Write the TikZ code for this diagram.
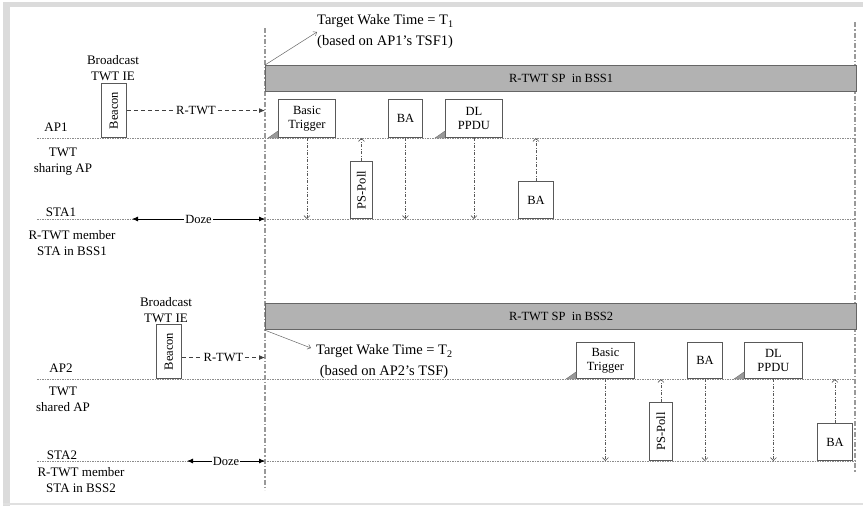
\documentclass[tikz,border=0pt]{standalone}
\usepackage{fontspec}
\setmainfont{Liberation Serif}
\usetikzlibrary{arrows.meta,calc}
\begin{document}
\begin{tikzpicture}[x=1pt,y=-1pt,
  lbl/.style={font=\fontsize{13}{16}\selectfont, inner sep=0pt, align=center},
  frm/.style={draw=black!65, fill=white, line width=0.9pt, inner sep=1pt, align=center, font=\fontsize{12.5}{14}\selectfont, anchor=south west},
  tline/.style={draw=black!45, line width=0.8pt, dash pattern=on 1.5pt off 1pt},
  vline/.style={draw=black!40, line width=1.2pt, dash pattern=on 5pt off 2pt on 1.5pt off 2pt},
  bar/.style={draw=black!60, fill=black!30, line width=1.2pt, anchor=north west, minimum width=591pt, minimum height=26pt, inner sep=0pt, font=\fontsize{12.5}{14}\selectfont},
  msg/.style={draw=black!65, line width=0.6pt, dash pattern=on 3pt off 1.5pt on 1pt off 1.5pt, -{Straight Barb[length=3pt,width=6pt]}},
  rtwt/.style={draw=black!75, line width=0.8pt, dash pattern=on 4pt off 3pt, -{Latex[length=6pt,width=5pt]}},
  doze/.style={draw=black, line width=0.8pt, {Latex[length=6pt,width=5pt]}-{Latex[length=6pt,width=5pt]}},
  twa/.style={draw=black!60, line width=0.5pt, -{Straight Barb[length=3pt,width=5pt]}},
  wedge/.style={fill=black!40, draw=black!55, line width=0.4pt},
  onl/.style={fill=white, inner sep=1pt, font=\fontsize{12.5}{14}\selectfont},
  twt/.style={anchor=west, align=left, inner sep=0pt, font=\fontsize{14.5}{21}\selectfont}
]
\useasboundingbox (0,0) rectangle (863,506);
% frame
\fill[black!14] (3,2) rectangle (863,7);
\fill[black!14] (3,2) rectangle (10,506);
\fill[black!12] (3,503) rectangle (863,505);

% coordinates of timelines
\coordinate (ap1) at (37,138);   \coordinate (ap1e) at (855,138);
\coordinate (sta1) at (37,219);  \coordinate (sta1e) at (855,219);
\coordinate (ap2) at (37,379);   \coordinate (ap2e) at (855,379);
\coordinate (sta2) at (37,461);  \coordinate (sta2e) at (855,461);
\coordinate (v1) at (265,28);    \coordinate (v1e) at (265,490);
\coordinate (v2) at (855,22);    \coordinate (v2e) at (855,472);

\draw[tline] (ap1) -- (ap1e);
\draw[tline] (sta1) -- (sta1e);
\draw[tline] (ap2) -- (ap2e);
\draw[tline] (sta2) -- (sta2e);
\draw[vline] (v1) -- (v1e);
\draw[vline] (v2) -- (v2e);

% left labels
\node[lbl] (l1) at (113,68) {Broadcast\\TWT IE};
\node[lbl] (l2) at (56,127) {AP1};
\node[lbl] (l3) at (63,162) {TWT\\sharing AP};
\node[lbl] (l4) at (61,212) {STA1};
\node[lbl] (l5) at (72,243) {R-TWT member\\STA in BSS1};
\node[lbl] (l6) at (166,310) {Broadcast\\TWT IE};
\node[lbl] (l7) at (61,368) {AP2};
\node[lbl] (l8) at (63,399) {TWT\\shared AP};
\node[lbl] (l9) at (62,455) {STA2};
\node[lbl] (l10) at (81,480) {R-TWT member\\STA in BSS2};

% bars
\node[bar] (bar1) at (265,65) {R-TWT SP\ \ in BSS1};
\node[bar] (bar2) at (265,303) {R-TWT SP\ \ in BSS2};

% target wake time texts
\node[twt] (tw1) at (317,32) {Target Wake Time = T\textsubscript{1}\\(based on AP1's TSF1)};
\node[twt] (tw2) at (316,362) {Target Wake Time = T\textsubscript{2}\\\ (based on AP2's TSF)};
\coordinate (tw2p) at (311,348);
\draw[twa] (bar1.north west) -- (tw1.west);
\draw[twa] (bar2.south west) -- (tw2p);

% BSS1 frames
\node[frm, minimum width=25pt, minimum height=54pt] (b1) at (101,138) {\rotatebox{90}{Beacon}};
\node[frm, minimum width=57pt, minimum height=38pt] (bt1) at (278,138) {Basic\\Trigger};
\node[frm, minimum width=34pt, minimum height=38pt] (ba1) at (388,138) {BA};
\node[frm, minimum width=57pt, minimum height=38pt] (dl1) at (445,138) {DL\\PPDU};
\node[frm, minimum width=22pt, minimum height=57pt] (ps1) at (350,219) {\rotatebox{90}{PS-Poll}};
\node[frm, minimum width=35pt, minimum height=37pt] (bas1) at (518,219) {BA};

\fill[wedge] (bt1.south west) -- ++(-10,0) -- ++(10,-7) -- cycle;
\fill[wedge] (dl1.south west) -- ++(-10,0) -- ++(10,-7) -- cycle;

\draw[rtwt] (b1.east) -- (b1.east -| v1) node[onl, midway] {R-TWT};
\draw[doze] (132,219) coordinate (dz1) -- (v1 |- sta1) node[onl, midway] {Doze};

\draw[msg] (bt1.south) -- (bt1.south |- sta1);
\draw[msg] (ps1.north) -- (ps1.north |- ap1);
\draw[msg] (ba1.south) -- (ba1.south |- sta1);
\draw[msg] (dl1.south) -- (dl1.south |- sta1);
\draw[msg] (bas1.north) -- (bas1.north |- ap1);

% BSS2 frames
\node[frm, minimum width=25pt, minimum height=54pt] (b2) at (156,379) {\rotatebox{90}{Beacon}};
\node[frm, minimum width=58pt, minimum height=36pt] (bt2) at (576,379) {Basic\\Trigger};
\node[frm, minimum width=35pt, minimum height=36pt] (ba2) at (687,379) {BA};
\node[frm, minimum width=58pt, minimum height=36pt] (dl2) at (744,379) {DL\\PPDU};
\node[frm, minimum width=23pt, minimum height=58pt] (ps2) at (649,461) {\rotatebox{90}{PS-Poll}};
\node[frm, minimum width=35pt, minimum height=37pt] (bas2) at (817,461) {BA};

\fill[wedge] (bt2.south west) -- ++(-10,0) -- ++(10,-7) -- cycle;
\fill[wedge] (dl2.south west) -- ++(-10,0) -- ++(10,-7) -- cycle;

\draw[rtwt] ([yshift=-6pt]b2.east) -- ([yshift=-6pt]b2.east -| v1) node[onl, midway] {R-TWT};
\draw[doze] (187,461) coordinate (dz2) -- (v1 |- sta2) node[onl, midway] {Doze};

\draw[msg] (bt2.south) -- (bt2.south |- sta2);
\draw[msg] (ps2.north) -- (ps2.north |- ap2);
\draw[msg] (ba2.south) -- (ba2.south |- sta2);
\draw[msg] (dl2.south) -- (dl2.south |- sta2);
\draw[msg] (bas2.north) -- (bas2.north |- ap2);
\end{tikzpicture}
\end{document}
